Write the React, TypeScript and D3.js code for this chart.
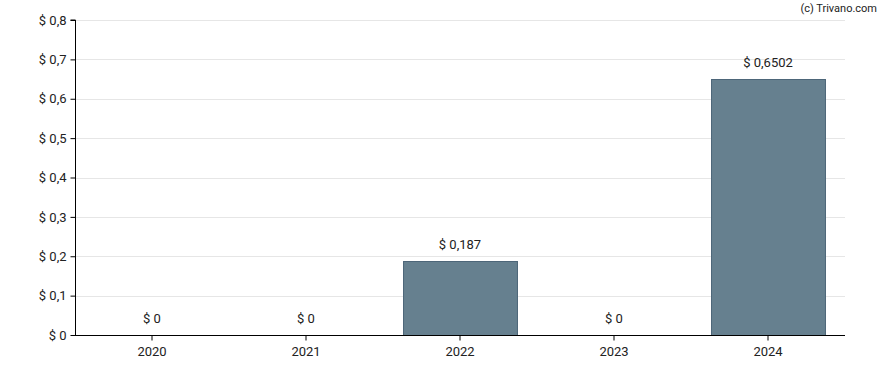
import * as d3 from 'd3';
import React, { useEffect, useRef } from 'react';

const years = ['2020', '2021', '2022', '2023', '2024'];
const dividends = [0, 0, 0.187, 0, 0.6502];
const valueLabels = ['$ 0', '$ 0', '$ 0,187', '$ 0', '$ 0,6502'];
const yTicks = [0, 0.1, 0.2, 0.3, 0.4, 0.5, 0.6, 0.7, 0.8];

const App = () => {
  const svgRef = useRef<SVGSVGElement>(null);

  useEffect(() => {
    const width = 888;
    const height = 370;
    const margin = { top: 20, right: 43, bottom: 35, left: 75 };
    const font = 'Roboto, Arial, sans-serif';

    const data = years.map((year, i) => ({ year, value: dividends[i], label: valueLabels[i] }));

    const svg = d3.select(svgRef.current);
    svg.selectAll('*').remove();
    svg.attr('width', width).attr('height', height);

    const x = d3
      .scaleBand()
      .domain(years)
      .range([margin.left, width - margin.right])
      .paddingInner(0.26)
      .paddingOuter(0.13);

    const y = d3
      .scaleLinear()
      .domain([0, 0.8])
      .range([height - margin.bottom, margin.top]);

    // grid
    svg.append('g')
      .selectAll('line')
      .data(yTicks.slice(1))
      .enter()
      .append('line')
      .attr('x1', margin.left)
      .attr('x2', width - margin.right)
      .attr('y1', d => Math.round(y(d)) + 0.5)
      .attr('y2', d => Math.round(y(d)) + 0.5)
      .attr('stroke', '#e6e6e6');

    // bars
    svg.append('g')
      .selectAll('rect')
      .data(data.filter(d => d.value > 0))
      .enter()
      .append('rect')
      .attr('x', d => (x(d.year) as number) + 0.5)
      .attr('y', d => Math.round(y(d.value)) + 0.5)
      .attr('width', x.bandwidth())
      .attr('height', d => y(0) - Math.round(y(d.value)))
      .attr('fill', '#66808f')
      .attr('stroke', '#4d6679');

    // value labels
    svg.append('g')
      .selectAll('text')
      .data(data)
      .enter()
      .append('text')
      .attr('x', d => (x(d.year) as number) + x.bandwidth() / 2)
      .attr('y', d => y(d.value) - 12)
      .attr('text-anchor', 'middle')
      .attr('font-family', font)
      .attr('font-size', 13)
      .attr('fill', '#222')
      .text(d => d.label);

    // y axis
    const yAxis = svg.append('g')
      .attr('transform', `translate(${margin.left + 0.5},0)`)
      .call(
        d3.axisLeft(y)
          .tickValues(yTicks)
          .tickSize(5)
          .tickPadding(4)
          .tickFormat(d => '$ ' + String(d).replace('.', ','))
      );
    yAxis.select('.domain').attr('stroke', '#000').attr('d', `M-5,${y(0.8)}H0V${y(0)}`);
    yAxis.selectAll('line').attr('stroke', '#000');
    yAxis.selectAll('text')
      .attr('font-family', font)
      .attr('font-size', 13)
      .attr('fill', '#222');

    // x axis
    const xAxis = svg.append('g')
      .attr('transform', `translate(0,${y(0) + 0.5})`)
      .call(d3.axisBottom(x).tickSize(5).tickPadding(6));
    xAxis.select('.domain').attr('stroke', '#000').attr('d', `M${margin.left},0H${width - margin.right}`);
    xAxis.selectAll('line').attr('stroke', '#000');
    xAxis.selectAll('text')
      .attr('font-family', font)
      .attr('font-size', 13)
      .attr('fill', '#222');

    // credit
    svg.append('text')
      .attr('x', 877)
      .attr('y', 12)
      .attr('text-anchor', 'end')
      .attr('font-family', font)
      .attr('font-size', 11)
      .attr('fill', '#222')
      .text('(c) Trivano.com');
  }, []);

  return <svg ref={svgRef} style={{ position: 'absolute', left: 0, top: 0 }}></svg>;
};

export default App;
